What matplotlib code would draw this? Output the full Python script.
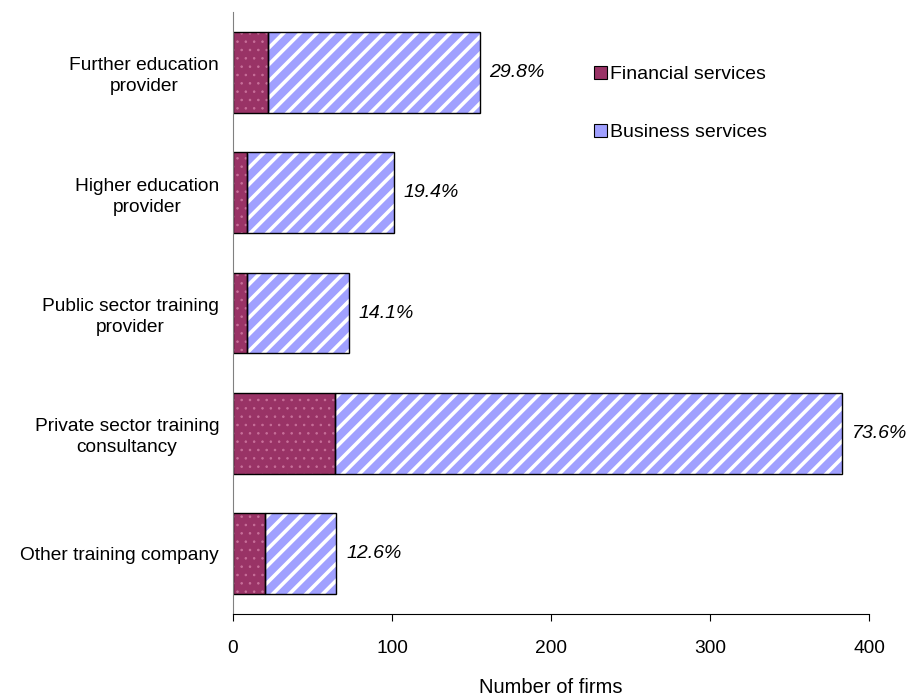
import matplotlib
matplotlib.use("Agg")
import matplotlib.pyplot as plt
from matplotlib.patches import Patch

plt.rcParams['font.family'] = ['Liberation Sans', 'DejaVu Sans']

# data (top to bottom)
categories = ["Further education\nprovider", "Higher education\nprovider",
              "Public sector training\nprovider", "Private sector training\nconsultancy",
              "Other training company"]
financial = [22, 9, 9, 64, 20]
business = [133, 92, 64, 319, 45]
share_labels = ["29.8%", "19.4%", "14.1%", "73.6%", "12.6%"]

fin_color = "#993366"
fin_dots = "#c8709a"
bus_color = "#a0a0ff"

fig = plt.figure(figsize=(9.09, 6.98), dpi=100)
ax = fig.add_axes([0.2563, 0.1203, 0.7, 0.8625])

ypos = list(range(len(categories)))
totals = [f + b for f, b in zip(financial, business)]

# financial services: dark magenta with small pink dots
plt.rcParams['hatch.linewidth'] = 0.6
fin_bars = ax.barh(ypos, financial, height=0.67, color=fin_color, edgecolor=fin_dots,
                   hatch="..", linewidth=0)
# business services: light blue with white stripes
plt.rcParams['hatch.linewidth'] = 2.6
bus_bars = ax.barh(ypos, business, left=financial, height=0.67, color=bus_color,
                   edgecolor="white", hatch="//", linewidth=0)
for b in fin_bars:
    if hasattr(b, "set_hatch_linewidth"):
        b.set_hatch_linewidth(0.6)
for b in bus_bars:
    if hasattr(b, "set_hatch_linewidth"):
        b.set_hatch_linewidth(2.6)

# outlines
ax.barh(ypos, financial, height=0.67, facecolor="none", edgecolor="black", linewidth=1)
ax.barh(ypos, business, left=financial, height=0.67, facecolor="none",
        edgecolor="black", linewidth=1)

for y, t, lab in zip(ypos, totals, share_labels):
    ax.annotate(lab, (t, y), xytext=(7, 0), textcoords="offset points",
                va="center", ha="left", fontsize=14, style="italic")

ax.set_ylim(len(categories) - 0.5, -0.5)
ax.set_xlim(0, 400)
ax.set_xticks([0, 100, 200, 300, 400])
ax.set_yticks(ypos)
ax.set_yticklabels(categories, fontsize=13.8, multialignment="center", linespacing=1.3)
ax.tick_params(axis="y", length=0, pad=10)
ax.tick_params(axis="x", length=5, direction="out", labelsize=13.8, pad=14)
ax.set_xlabel("Number of firms", fontsize=14.5, labelpad=15)

for s in ["top", "right"]:
    ax.spines[s].set_visible(False)
ax.spines["left"].set_color("#808080")
ax.spines["bottom"].set_color("black")

handles = [Patch(facecolor=fin_color, edgecolor="black", linewidth=0.8),
           Patch(facecolor=bus_color, edgecolor="black", linewidth=0.8)]
leg = ax.legend(handles, ["Financial services", "Business services"],
                loc="upper left", bbox_to_anchor=(0.54, 0.94), frameon=False,
                fontsize=14, handlelength=0.65, handleheight=0.65,
                handletextpad=0.15, labelspacing=2.1)

fig.savefig("out.png", dpi=100)
